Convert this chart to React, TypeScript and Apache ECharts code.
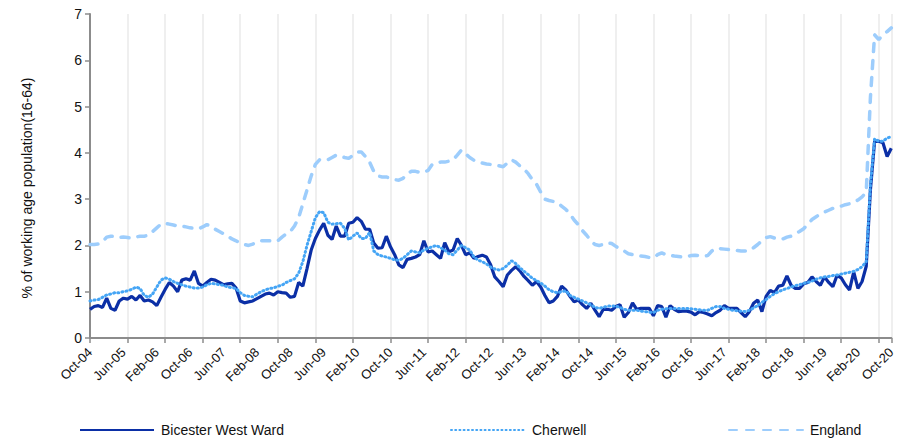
import React, { useEffect, useRef } from "react";
import * as echarts from "echarts";

const MONTH_NAMES = ["Jan", "Feb", "Mar", "Apr", "May", "Jun", "Jul", "Aug", "Sep", "Oct", "Nov", "Dec"];
const START_YEAR = 2004;
const START_MONTH = 9; // October
const N_MONTHS = 193;

const categories: string[] = [];
for (let i = 0; i < N_MONTHS; i++) {
  const m = (START_MONTH + i) % 12;
  const y = START_YEAR + Math.floor((START_MONTH + i) / 12);
  categories.push(`${MONTH_NAMES[m]}-${String(y % 100).padStart(2, "0")}`);
}

const seriesNames = ["Bicester West Ward", "Cherwell", "England"];

const bicester = [
  0.62, 0.68, 0.7, 0.66, 0.86, 0.64, 0.6, 0.8, 0.86, 0.84,
  0.9, 0.82, 0.92, 0.8, 0.82, 0.78, 0.7, 0.88, 1.05, 1.2,
  1.12, 1.0, 1.25, 1.28, 1.25, 1.45, 1.18, 1.12, 1.2, 1.27,
  1.25, 1.2, 1.15, 1.17, 1.18, 1.08, 0.8, 0.76, 0.78, 0.8,
  0.85, 0.9, 0.95, 0.97, 0.93, 1.0, 0.98, 0.97, 0.88, 0.9,
  1.2, 1.12, 1.5, 1.9, 2.15, 2.33, 2.48, 2.22, 2.13, 2.42,
  2.2, 2.2, 2.48, 2.5, 2.6, 2.52, 2.35, 2.35, 2.05, 1.94,
  1.95, 2.2, 1.97, 1.8, 1.58, 1.52, 1.7, 1.72, 1.75, 1.8,
  2.1, 1.86, 1.88, 1.8, 1.72, 2.06, 1.86, 1.9, 2.15, 2.0,
  1.8, 1.84, 1.72, 1.76, 1.79, 1.75, 1.58, 1.32, 1.22, 1.11,
  1.36, 1.46, 1.54, 1.45, 1.33, 1.24, 1.14, 1.22, 1.1, 0.92,
  0.76, 0.8, 0.9, 1.12, 1.04, 0.9, 0.78, 0.82, 0.72, 0.64,
  0.75, 0.6, 0.46, 0.62, 0.62, 0.6, 0.68, 0.72, 0.45, 0.55,
  0.76, 0.62, 0.64, 0.64, 0.64, 0.48, 0.7, 0.68, 0.45, 0.7,
  0.62, 0.57, 0.58, 0.58, 0.56, 0.5, 0.57, 0.55, 0.52, 0.48,
  0.55, 0.6, 0.7, 0.64, 0.64, 0.64, 0.55, 0.46, 0.57, 0.75,
  0.82, 0.57, 0.9, 1.03, 0.98, 1.12, 1.14, 1.34, 1.14, 1.07,
  1.07, 1.17, 1.2, 1.32, 1.22, 1.14, 1.32, 1.2, 1.11, 1.35,
  1.3, 1.15, 1.04, 1.43, 1.07, 1.22, 1.55, 3.2, 4.25, 4.25,
  4.22, 3.92, 4.1,
];

const cherwell = [
  0.8, 0.82, 0.83, 0.88, 0.93, 0.95, 0.98, 0.98, 1.0, 1.02,
  1.05, 1.1, 1.07, 0.92, 0.88, 0.95, 1.1, 1.25, 1.3, 1.27,
  1.22, 1.18, 1.15, 1.12, 1.1, 1.08, 1.08, 1.1, 1.15, 1.18,
  1.17, 1.15, 1.14, 1.1, 1.09, 1.07, 0.98, 0.92, 0.9, 0.89,
  0.95, 1.0, 1.04, 1.07, 1.08, 1.12, 1.14, 1.2, 1.24, 1.28,
  1.4, 1.65, 2.0, 2.3, 2.6, 2.73, 2.71, 2.5, 2.46, 2.47,
  2.48, 2.37, 2.12, 2.2, 2.27, 2.15, 2.15, 2.28, 1.88, 1.8,
  1.77, 1.75, 1.72, 1.69, 1.68, 1.72, 1.8, 1.88, 1.86, 1.84,
  1.9, 1.94, 1.97, 2.0, 1.95, 1.9, 1.82, 1.8, 1.9, 2.0,
  1.95, 1.9, 1.75, 1.68, 1.65, 1.6, 1.53, 1.49, 1.47, 1.5,
  1.57, 1.67, 1.61, 1.52, 1.44, 1.37, 1.29, 1.24, 1.19, 1.12,
  1.04, 1.0, 0.98, 1.0, 1.02, 0.92, 0.88, 0.84, 0.8, 0.76,
  0.72, 0.66, 0.64, 0.66, 0.69, 0.69, 0.69, 0.66, 0.62, 0.6,
  0.6, 0.6, 0.58, 0.57, 0.56, 0.55, 0.6, 0.62, 0.63, 0.64,
  0.64, 0.64, 0.64, 0.64, 0.63, 0.62, 0.61, 0.6, 0.6, 0.64,
  0.68, 0.68, 0.64, 0.62, 0.6, 0.59, 0.58, 0.57, 0.6, 0.65,
  0.7, 0.77, 0.83, 0.9, 0.96, 1.0, 1.04, 1.07, 1.1, 1.13,
  1.15, 1.18, 1.2, 1.23, 1.27, 1.3, 1.32, 1.33, 1.35, 1.36,
  1.38, 1.4, 1.42, 1.44, 1.48, 1.54, 1.65, 3.3, 4.3, 4.25,
  4.25, 4.32, 4.35,
];

const england = [
  2.02, 2.02, 2.03, 2.08, 2.18, 2.2, 2.19, 2.17, 2.18, 2.17,
  2.16, 2.18, 2.2, 2.2, 2.22, 2.3, 2.38, 2.46, 2.48, 2.46,
  2.44, 2.42, 2.42, 2.4, 2.38, 2.37, 2.36, 2.4, 2.45, 2.42,
  2.35, 2.3, 2.25, 2.2, 2.14, 2.1, 2.05, 2.02, 2.0, 2.03,
  2.07, 2.1, 2.1, 2.1, 2.09, 2.1, 2.18, 2.25, 2.3, 2.42,
  2.6, 2.9, 3.2, 3.5, 3.75, 3.85, 3.85, 3.85, 3.9, 3.95,
  3.93, 3.9, 3.88, 3.95, 4.02, 4.02, 3.92, 3.8, 3.6, 3.5,
  3.48, 3.48, 3.45, 3.42, 3.41, 3.45, 3.55, 3.6, 3.6, 3.58,
  3.58, 3.62, 3.75, 3.78, 3.8, 3.8, 3.82, 3.85, 3.95, 4.06,
  3.98, 3.9, 3.84, 3.8, 3.78, 3.76, 3.75, 3.74, 3.72, 3.7,
  3.78, 3.85, 3.8, 3.72, 3.65, 3.55, 3.42, 3.32, 3.15, 3.0,
  2.97, 2.95, 2.93, 2.85, 2.78, 2.68, 2.55, 2.45, 2.32, 2.22,
  2.1, 2.02, 2.0, 2.02, 2.06, 2.04, 1.98, 1.92, 1.88, 1.82,
  1.8, 1.78, 1.77, 1.76, 1.74, 1.73, 1.8, 1.84, 1.8, 1.79,
  1.77, 1.76, 1.75, 1.76, 1.78, 1.79, 1.78, 1.77, 1.78, 1.88,
  1.94, 1.93, 1.92, 1.91, 1.9, 1.89, 1.88, 1.88, 1.88, 1.95,
  2.02, 2.1, 2.17, 2.19, 2.16, 2.14, 2.14, 2.18, 2.2, 2.25,
  2.3, 2.36, 2.46, 2.56, 2.62, 2.68, 2.72, 2.76, 2.8, 2.83,
  2.85, 2.88, 2.9, 2.93, 2.98, 3.05, 3.15, 5.2, 6.55, 6.45,
  6.55, 6.62, 6.7,
];

const yAxisTitle = "% of working age population(16-64)";
const FONT = "Liberation Sans, Arial, sans-serif";

export default function App() {
  const ref = useRef<HTMLDivElement>(null);

  useEffect(() => {
    if (!ref.current) return;
    const chart = echarts.init(ref.current, undefined, { renderer: "svg" });
    const legendText = { fontSize: 14, color: "#111", fontFamily: FONT, padding: [0, 0, 0, 2] };
    const legendBase = {
      top: 418,
      itemWidth: 74,
      itemHeight: 14,
      textStyle: legendText,
      itemStyle: { opacity: 0 },
    };
    chart.setOption({
      animation: false,
      backgroundColor: "#ffffff",
      textStyle: { fontFamily: FONT },
      grid: { left: 90, width: 810, top: 14, height: 324, containLabel: false },
      legend: [
        { ...legendBase, data: [seriesNames[0]], left: 74 },
        { ...legendBase, data: [seriesNames[1]], left: 445 },
        { ...legendBase, data: [seriesNames[2]], left: 723 },
      ],
      xAxis: {
        type: "category",
        boundaryGap: false,
        data: categories,
        axisLine: { show: true, lineStyle: { color: "#8c8c8c", width: 2 } },
        axisTick: { show: true, interval: 8, length: 5, lineStyle: { color: "#8c8c8c", width: 1.5 } },
        axisLabel: {
          interval: 7,
          rotate: 45,
          fontSize: 13,
          color: "#111",
          margin: 12,
          hideOverlap: false,
          showMaxLabel: true,
        },
        splitLine: { show: true, interval: 8, lineStyle: { color: "#efefef", width: 2 } },
      },
      yAxis: {
        type: "value",
        min: 0,
        max: 7,
        interval: 1,
        name: yAxisTitle,
        nameLocation: "middle",
        nameGap: 56,
        nameTextStyle: { fontSize: 14, color: "#111", padding: [0, 24, 0, 0] },
        axisLine: { show: true, lineStyle: { color: "#8c8c8c", width: 2 } },
        axisTick: { show: true, length: 5, lineStyle: { color: "#8c8c8c", width: 1.5 } },
        axisLabel: { fontSize: 14, color: "#111", margin: 8 },
        splitLine: { show: false },
      },
      series: [
        {
          name: seriesNames[0],
          type: "line",
          data: bicester,
          symbol: "none",
          color: "#0b2fa6",
          lineStyle: { color: "#0b2fa6", width: 3.2 },
          z: 3,
        },
        {
          name: seriesNames[1],
          type: "line",
          data: cherwell,
          symbol: "none",
          color: "#45a5f5",
          lineStyle: { color: "#45a5f5", width: 3, type: [1, 3.2], cap: "round" },
          z: 4,
        },
        {
          name: seriesNames[2],
          type: "line",
          data: england,
          symbol: "none",
          color: "#9dcdfc",
          lineStyle: { color: "#9dcdfc", width: 3.5, type: [8, 9], cap: "round" },
          z: 2,
        },
      ],
    });
    return () => chart.dispose();
  }, []);

  return (
    <div
      ref={ref}
      style={{ position: "fixed", left: 0, top: 0, width: 898, height: 440, background: "#fff" }}
    />
  );
}
